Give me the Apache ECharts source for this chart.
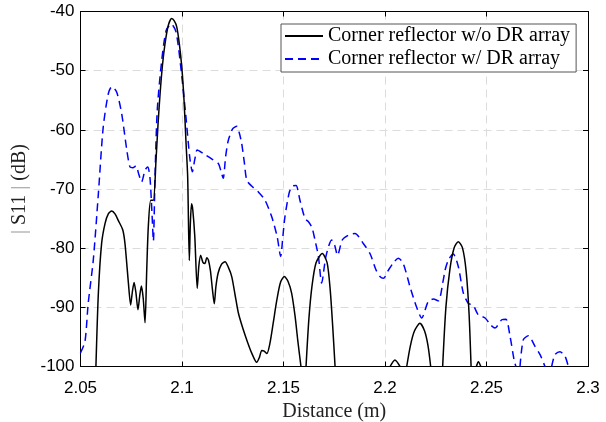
<!DOCTYPE html>
<html>
<head>
<meta charset="utf-8">
<script src="https://cdn.jsdelivr.net/npm/echarts@6/dist/echarts.min.js"></script>
<style>
html,body{margin:0;padding:0;background:#fff;}
#chart{width:606px;height:422px;}
</style>
</head>
<body>
<div id="chart"></div>
<script>
// Tick values
const xTicks = [2.05, 2.1, 2.15, 2.2, 2.25, 2.3];
const yTicks = [-100, -90, -80, -70, -60, -50, -40];
const seriesNames = ['Corner reflector w/o DR array', 'Corner reflector w/ DR array'];

// Series 1: without DR array (null = below -100 dB, line broken)
const distWo = [
  2.0576,2.0588,2.0604,2.0621,2.0637,2.0654,2.0670,2.0686,2.0708,2.0719,
  2.0736,2.0747,2.0755,2.0764,2.0773,2.0783,2.0792,2.0800,2.0809,2.0818,
  2.0826,2.0834,2.0846,2.0859,2.0872,2.0882,2.0892,2.0904,2.0916,2.0932,
  2.0949,2.0962,2.0974,2.0987,2.0999,2.1010,2.1020,2.1028,2.1036,2.1041,
  2.1047,2.1053,2.1063,2.1075,2.1083,2.1092,2.1103,2.1113,2.1122,2.1130,
  2.1140,2.1150,2.1159,2.1167,2.1178,2.1195,2.1212,2.1228,2.1245,2.1262,
  2.1278,2.1302,2.1322,2.1343,2.1368,2.1381,2.1393,2.1405,2.1418,2.1433,
  2.1450,2.1467,2.1485,2.1504,2.1522,2.1540,2.1557,2.1570,2.1586,2.1598,
  2.1611,2.1625,2.1640,2.1660,2.1691,2.1715,2.1730,2.1742,2.1754,2.1900,
  2.2025,2.2049,2.2074,2.2090,
  2.2107,2.2125,2.2145,2.2172,2.2195,2.2212,2.2225,2.2250,
  2.2284,2.2300,2.2320,2.2340,2.2361,2.2382,2.2400,2.2414,2.2424,2.2437,
  2.2450,2.2460,2.2472
];
const valWo = [
  -100,-87.6,-79.2,-75.8,-74.2,-73.7,-74.2,-75.3,-76.9,-79.2,
  -85.9,-89.6,-87.5,-85.8,-87.5,-90.4,-88.0,-86.4,-88.5,-92.6,
  -84.0,-76.4,-71.9,-71.9,-65.1,-59.0,-53.9,-49.0,-45.5,-42.4,
  -41.2,-41.6,-42.6,-45.5,-49.4,-55.0,-62.3,-68.0,-82.1,-76.0,
  -72.5,-73.5,-78.0,-86.8,-83.0,-81.2,-82.4,-82.6,-81.6,-82.0,
  -83.8,-87.0,-89.4,-86.5,-84.2,-82.7,-82.3,-83.2,-84.8,-88.0,
  -91.0,-93.8,-95.8,-97.7,-99.3,-98.5,-97.3,-97.4,-97.8,-96.1,
  -92.5,-88.8,-85.8,-84.8,-85.6,-87.6,-91.5,-95.5,-100,null,
  -100,-92.0,-86.5,-82.5,-80.9,-82.5,-87.0,-93.0,-100,null,
  -100,-98.9,-100,null,
  -100,-96.5,-94.0,-92.7,-94.0,-96.5,-100,null,
  -100,-90.0,-83.5,-80.0,-78.9,-80.0,-84.0,-91.0,-100,null,
  -100,-99.2,-100
];

// Series 2: with DR array
const distW = [
  2.0500,2.0522,2.0538,2.0563,2.0588,2.0612,2.0637,2.0654,2.0678,2.0703,
  2.0728,2.0744,2.0758,2.0773,2.0787,2.0801,2.0818,2.0831,2.0842,2.0852,
  2.0859,2.0867,2.0878,2.0900,2.0922,2.0947,2.0971,2.0996,2.1021,2.1038,
  2.1051,2.1063,2.1075,2.1105,2.1146,2.1179,2.1192,2.1203,2.1215,2.1228,
  2.1250,2.1270,2.1282,2.1294,2.1307,2.1319,2.1343,2.1376,2.1409,2.1442,
  2.1469,2.1486,2.1497,2.1507,2.1529,2.1545,2.1562,2.1581,2.1606,2.1622,
  2.1640,2.1655,2.1672,2.1688,2.1709,2.1737,2.1752,2.1766,2.1790,2.1820,
  2.1852,2.1893,2.1926,2.1956,2.1975,2.1992,2.2017,2.2045,2.2066,2.2090,
  2.2123,2.2155,2.2181,2.2213,2.2238,2.2263,2.2287,2.2296,2.2312,2.2336,
  2.2361,2.2386,2.2410,2.2435,2.2460,2.2493,2.2521,2.2542,2.2575,2.2596,
  2.2616,2.2636,2.2645,2.2655,
  2.2665,2.2681,2.2706,2.2739,2.2764,2.2788,2.2805,
  2.2821,2.2837,2.2862,2.2887,2.2903
];
const valW = [
  -97.7,-95.8,-89.3,-82.0,-70.8,-59.5,-53.9,-52.7,-53.6,-57.3,
  -63.4,-66.3,-66.4,-66.1,-67.5,-68.8,-66.8,-66.3,-68.0,-74.0,
  -78.8,-68.0,-56.7,-48.3,-43.2,-42.1,-43.5,-50.0,-58.4,-64.6,
  -67.1,-65.0,-63.4,-64.0,-64.9,-65.7,-67.0,-68.2,-64.5,-61.8,
  -59.8,-59.4,-60.5,-62.3,-65.5,-68.5,-69.5,-70.5,-71.9,-74.7,
  -78.1,-81.4,-78.0,-74.7,-70.5,-69.5,-69.4,-71.9,-75.0,-75.5,
  -76.5,-78.6,-81.4,-85.9,-81.4,-78.6,-79.5,-81.2,-78.6,-77.8,
  -77.5,-79.2,-80.9,-83.7,-84.8,-85.1,-83.7,-82.3,-81.7,-82.6,
  -86.5,-89.9,-91.8,-89.0,-88.6,-88.9,-85.4,-83.7,-82.0,-81.0,
  -83.1,-87.6,-89.3,-89.7,-91.3,-91.8,-93.0,-93.5,-92.1,-92.0,
  -94.9,-98.9,-100,null,
  -100,-95.5,-94.8,-96.6,-98.0,-100,null,
  -100,-98.0,-97.5,-98.3,-100
];

function pairs(xs, ys) { return xs.map((x, i) => [x, ys[i]]); }

const chart = echarts.init(document.getElementById('chart'), null, {renderer: 'canvas'});
const gridColor = '#dcdcdc';
const axisLine = {show: true, onZero: false, lineStyle: {color: '#000', width: 1}};
const axisTick = {show: true, inside: true, length: 5, lineStyle: {color: '#000'}};
chart.setOption({
  animation: false,
  backgroundColor: '#fff',
  grid: {left: 80.5, top: 11.5, right: 18, bottom: 55.5, containLabel: false, outerBoundsMode: 'none'},
  xAxis: [
    {
      type: 'value', position: 'bottom',
      min: xTicks[0], max: xTicks[xTicks.length - 1], interval: 0.05,
      axisLine: axisLine, axisTick: axisTick,
      axisLabel: {color: '#000', fontFamily: 'Liberation Sans', fontSize: 17, margin: 13},
      splitLine: {show: true, lineStyle: {color: gridColor, type: [8, 5], width: 1}},
      name: 'Distance (m)', nameLocation: 'middle', nameGap: 32,
      nameTextStyle: {fontFamily: 'Liberation Serif', fontSize: 20, color: '#222'}
    },
    {
      type: 'value', position: 'top',
      min: xTicks[0], max: xTicks[xTicks.length - 1], interval: 0.05,
      axisLine: axisLine, axisTick: axisTick,
      axisLabel: {show: false}, splitLine: {show: false}
    }
  ],
  yAxis: [
    {
      type: 'value', position: 'left',
      min: yTicks[0], max: yTicks[yTicks.length - 1], interval: 10,
      axisLine: axisLine, axisTick: axisTick,
      axisLabel: {color: '#000', fontFamily: 'Liberation Sans', fontSize: 17, margin: 6},
      splitLine: {show: true, lineStyle: {color: gridColor, type: [8, 5], width: 1}},
      name: '{bar|| }S11{bar| |} (dB)', nameLocation: 'middle', nameGap: 50, nameRotate: 90,
      nameTextStyle: {fontFamily: 'Liberation Serif', fontSize: 20, color: '#222',
        rich: {bar: {fontFamily: 'Liberation Serif', fontSize: 20, color: '#999'}}}
    },
    {
      type: 'value', position: 'right',
      min: yTicks[0], max: yTicks[yTicks.length - 1], interval: 10,
      axisLine: axisLine, axisTick: axisTick,
      axisLabel: {show: false}, splitLine: {show: false}
    }
  ],
  legend: {
    orient: 'vertical', left: 281, top: 24,
    backgroundColor: '#fff', borderColor: '#555', borderWidth: 1, borderRadius: 0,
    padding: [2, 6, 3, 3], itemGap: 3, itemWidth: 38, itemHeight: 2,
    itemStyle: {opacity: 0},
    textStyle: {fontFamily: 'Liberation Serif', fontSize: 20, color: '#000', lineHeight: 20},
    data: seriesNames
  },
  series: [
    {
      name: seriesNames[0], type: 'line', xAxisIndex: 0, yAxisIndex: 0,
      data: pairs(distWo, valWo), showSymbol: false, symbol: 'none', smooth: 0.25,
      connectNulls: false, clip: true,
      lineStyle: {color: '#000', width: 1.5}, itemStyle: {color: '#000'}, z: 3
    },
    {
      name: seriesNames[1], type: 'line', xAxisIndex: 0, yAxisIndex: 0,
      data: pairs(distW, valW), showSymbol: false, symbol: 'none', smooth: 0.25,
      connectNulls: false, clip: true,
      lineStyle: {color: '#0000ff', width: 1.5, type: [8, 5]}, itemStyle: {color: '#0000ff'}, z: 2
    }
  ]
});
</script>
</body>
</html>
